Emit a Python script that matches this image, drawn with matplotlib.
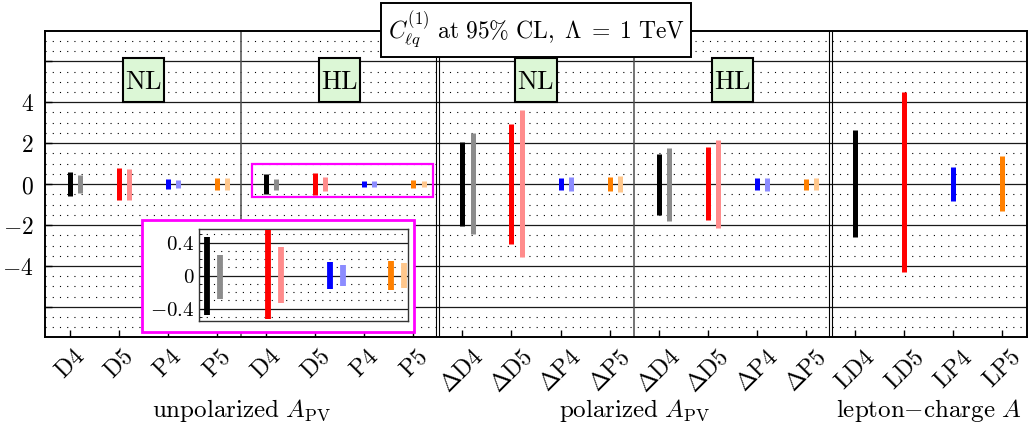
import numpy as np
import matplotlib
matplotlib.use("Agg")
import matplotlib.pyplot as plt
from matplotlib.patches import Rectangle
from matplotlib.ticker import MultipleLocator, FixedLocator
import matplotlib.transforms as mtransforms

plt.rcParams['mathtext.fontset'] = 'cm'
plt.rcParams['font.family'] = ['DejaVu Serif']

# tick labels, one per observable
tick_labels = ['D4', 'D5', 'P4', 'P5', 'D4', 'D5', 'P4', 'P5',
               r'\Delta D4', r'\Delta D5', r'\Delta P4', r'\Delta P5',
               r'\Delta D4', r'\Delta D5', r'\Delta P4', r'\Delta P5',
               'LD4', 'LD5', 'LP4', 'LP5']

# 95% CL intervals, first set (dark bars)
dark_hi = [0.58, 0.77, 0.23, 0.30, 0.47, 0.55, 0.165, 0.18,
           2.05, 2.96, 0.30, 0.35, 1.49, 1.80, 0.28, 0.26,
           2.62, 4.50, 0.82, 1.35]
dark_lo = [-0.58, -0.79, -0.24, -0.31, -0.48, -0.53, -0.165, -0.18,
           -2.03, -2.95, -0.30, -0.35, -1.51, -1.77, -0.29, -0.27,
           -2.57, -4.30, -0.82, -1.33]

# second set (light bars), only for the A_PV observables
light_hi = [0.45, 0.73, 0.19, 0.28, 0.25, 0.34, 0.13, 0.15,
            2.48, 3.62, 0.35, 0.40, 1.78, 2.16, 0.32, 0.32]
light_lo = [-0.43, -0.76, -0.19, -0.30, -0.28, -0.33, -0.13, -0.15,
            -2.44, -3.58, -0.35, -0.40, -1.80, -2.13, -0.32, -0.31]

dark_colors = ['black', '#ff0000', '#0000ff', '#ff8000']
light_colors = ['#8c8c8c', '#ff8c8c', '#8c8cff', '#ffc78c']

group_names = [r'$\mathrm{unpolarized}\ A_{\mathrm{PV}}$',
               r'$\mathrm{polarized}\ A_{\mathrm{PV}}$',
               r'$\mathrm{lepton}{-}\mathrm{charge}\ A$']
group_centers = [4.5, 12.5, 18.5]
lumi_labels = ['NL', 'HL', 'NL', 'HL']
lumi_centers = [2.5, 6.5, 10.5, 14.5]

W, H = 1028, 428
fig = plt.figure(figsize=(W / 100, H / 100), dpi=100)
ax = fig.add_axes([45 / W, 1 - 337 / H, (1027 - 45) / W, (337 - 31) / H])

x_dark = np.arange(1, len(dark_hi) + 1)
x_light = np.arange(1, len(light_hi) + 1) + 0.21
cdark = [dark_colors[i % 4] for i in range(len(dark_hi))]
clight = [light_colors[i % 4] for i in range(len(light_hi))]

ax.vlines(x_dark, dark_lo, dark_hi, colors=cdark, linewidth=3.6, zorder=4)
ax.vlines(x_light, light_lo, light_hi, colors=clight, linewidth=3.6, zorder=4)

ax.set_xlim(0.5, 20.5)
ax.set_ylim(-7.47, 7.48)

# grid: solid every 2, dotted every 0.5
ax.yaxis.set_major_locator(FixedLocator([-6, -4, -2, 0, 2, 4, 6]))
ax.yaxis.set_minor_locator(MultipleLocator(0.5))
ax.set_yticklabels(['', r'$-4$', r'$-2$', r'$0$', r'$2$', r'$4$', ''], fontsize=17)
ax.grid(True, axis='y', which='major', color='0.1', linewidth=0.9, zorder=1)
ax.grid(True, axis='y', which='minor', color='k', linewidth=0.8,
        linestyle=(0, (1, 5.5)), zorder=1)
ax.set_axisbelow(True)

ax.set_xticks(x_dark)
ax.set_xticklabels(['$\\mathrm{' + t.replace(r'\Delta ', r'}\Delta\mathrm{') + '}$'
                    for t in tick_labels], rotation=45, fontsize=17)
ax.tick_params(axis='x', direction='in', length=5, width=1, pad=6)
ax.tick_params(axis='y', which='major', direction='in', length=5, width=1, pad=8)
ax.tick_params(axis='y', which='minor', length=0)
for s in ax.spines.values():
    s.set_linewidth(1.4)

# separators between the panels
for xv in [4.5, 12.5]:
    ax.axvline(xv, color='0.3', linewidth=1.1, zorder=2)
for xv in [8.5, 16.5]:
    for dx in (-0.034, 0.034):
        ax.axvline(xv + dx, color='k', linewidth=0.8, zorder=2)

# luminosity tags
for xc, lab in zip(lumi_centers, lumi_labels):
    ax.add_patch(Rectangle((xc - 0.42, 5.1 - 1.07), 0.84, 2.14, facecolor='#dcf7d6',
                           edgecolor='k', linewidth=1.5, zorder=5))
    ax.text(xc, 5.0, r'$\mathrm{' + lab + '}$', ha='center', va='center',
            fontsize=19, zorder=6)

# highlight of the HL unpolarized block
ax.add_patch(Rectangle((4.72, -0.63), 3.68, 1.62, fill=False, edgecolor='#ff00ff',
                       linewidth=1.6, zorder=6))

# title box
ax.text(0.5, 1.004, r'$C^{(1)}_{\ell q}\ \mathrm{at\ 95\%\ CL,}\ \Lambda\;=\;1\ \mathrm{TeV}$',
        transform=ax.transAxes, ha='center', va='center', fontsize=17, zorder=10,
        bbox=dict(boxstyle='square,pad=0.28', facecolor='white', edgecolor='k',
                  linewidth=1.4), clip_on=False)

# panel names under the tick labels
trans = mtransforms.blended_transform_factory(ax.transData, ax.transAxes)
for xc, name in zip(group_centers, group_names):
    ax.text(xc, -0.261, name, transform=trans, ha='center', va='baseline',
            fontsize=18)

# zoomed view of the HL unpolarized block
fig.add_artist(Rectangle((142.3 / W, 1 - 332.3 / H), (414 - 142.3) / W, (332.3 - 220) / H,
                         transform=fig.transFigure, facecolor='white',
                         edgecolor='#ff00ff', linewidth=2.0, zorder=1))
axin = fig.add_axes([198.7 / W, 1 - 321 / H, (408.3 - 198.7) / W, (321 - 229.3) / H])
axin.set_zorder(2)
axin.vlines(x_dark[4:8], dark_lo[4:8], dark_hi[4:8], colors=cdark[4:8],
            linewidth=4.2, zorder=4)
axin.vlines(x_light[4:8], light_lo[4:8], light_hi[4:8], colors=clight[4:8],
            linewidth=4.2, zorder=4)
axin.set_xlim(4.87, 8.28)
axin.set_ylim(-0.55, 0.56)
axin.set_xticks([])
axin.yaxis.set_major_locator(FixedLocator([-0.4, 0, 0.4]))
axin.yaxis.set_minor_locator(MultipleLocator(0.1))
axin.set_yticklabels([r'$-0.4$', r'$0$', r'$0.4$'], fontsize=15)
axin.grid(True, axis='y', which='major', color='0.1', linewidth=0.9)
axin.grid(True, axis='y', which='minor', color='k', linewidth=0.8,
          linestyle=(0, (1, 5.5)))
axin.set_axisbelow(True)
axin.tick_params(axis='y', which='major', direction='in', length=4, pad=3)
axin.tick_params(axis='y', which='minor', direction='in', length=2)
for s in axin.spines.values():
    s.set_linewidth(1.0)
    s.set_color('0.2')

fig.savefig('out.png', dpi=100)
